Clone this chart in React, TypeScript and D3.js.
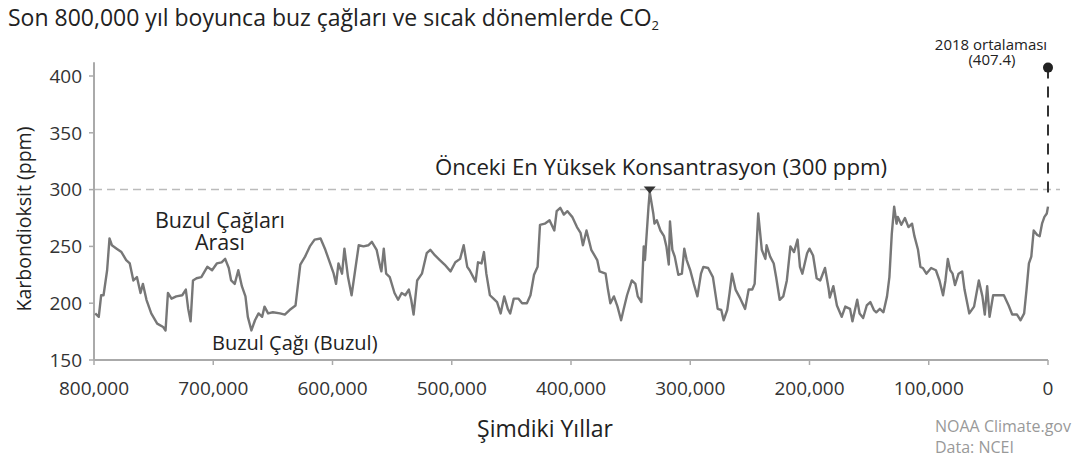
import React from 'react';
import * as d3 from 'd3';

// thousands of years before present
const years = [
  799, 796, 794, 792, 789, 787, 785, 781, 777, 773,
  770, 767, 764, 761, 759, 756, 752, 747, 742, 740,
  738, 735, 731, 726, 723, 721, 719, 717, 714, 710,
  705, 701, 697, 693, 690, 687, 685, 682, 679, 676,
  673, 671, 668, 665, 662, 659, 657, 654, 650, 644,
  640, 636, 631, 627, 623, 619, 615, 610, 606, 602,
  599, 597, 595, 592, 590, 587, 584, 581, 578, 574,
  570, 567, 563, 560, 559, 557, 555, 552, 548, 545,
  542, 539, 536, 534, 532, 529, 525, 521, 518, 514,
  510, 506, 501, 497, 493, 490, 487, 485, 480, 478,
  475, 473, 471, 468, 465, 462, 459, 456, 453, 451,
  448, 444, 441, 437, 434, 431, 428, 426, 422, 418,
  414, 412, 409, 406, 403, 399, 395, 392, 390, 387,
  383, 378, 376, 371, 369, 367, 364, 361, 358, 356,
  353, 349, 346, 344, 341, 339, 338, 335, 334, 331,
  330, 328, 325, 322, 320, 318, 317, 315, 313, 310,
  307, 305, 303, 300, 297, 294, 291, 289, 285, 281,
  277, 274, 272, 269, 267, 265, 262, 258, 254, 251,
  248, 246, 243, 240, 237, 236, 233, 230, 228, 225,
  222, 219, 216, 213, 210, 208, 206, 202, 200, 197,
  194, 191, 187, 184, 183, 180, 177, 173, 170, 166,
  164, 160, 158, 155, 152, 149, 146, 144, 141, 138,
  135, 133, 131, 129, 127, 126, 123, 120, 117, 114,
  112, 109, 107, 105, 102, 98, 94, 91, 88, 86,
  84, 82, 80, 78, 75, 72, 70, 66, 62, 58,
  55, 53, 51, 49, 46, 42, 37, 33, 30, 26,
  23, 20, 18, 16, 14, 12, 9, 7, 5, 3,
  1, 0,
];

// ppm
const co2 = [
  191, 188, 207, 207, 229, 257, 251, 248, 245, 238,
  235, 220, 223, 209, 217, 203, 191, 182, 179, 176,
  209, 204, 206, 207, 212, 195, 184, 220, 222, 223,
  232, 229, 235, 236, 239, 231, 220, 217, 229, 215,
  206, 188, 176, 185, 191, 188, 197, 191, 192, 191,
  190, 194, 198, 234, 241, 250, 256, 257, 247, 235,
  226, 217, 235, 226, 248, 223, 207, 229, 251, 250,
  251, 254, 247, 232, 228, 248, 226, 223, 209, 203,
  209, 207, 212, 203, 190, 220, 226, 244, 247, 242,
  238, 234, 228, 236, 239, 251, 232, 229, 219, 236,
  235, 245, 226, 207, 204, 201, 191, 206, 195, 191,
  204, 204, 200, 200, 207, 225, 232, 269, 270, 273,
  264, 281, 284, 278, 281, 276, 267, 262, 251, 264,
  247, 238, 228, 226, 212, 200, 206, 197, 185, 194,
  207, 220, 217, 206, 201, 250, 238, 285, 298, 279,
  270, 273, 264, 259, 250, 234, 272, 247, 241, 225,
  226, 248, 238, 229, 217, 206, 226, 232, 231, 223,
  195, 194, 185, 194, 209, 226, 212, 204, 195, 212,
  212, 217, 279, 247, 239, 251, 241, 235, 223, 203,
  206, 220, 250, 245, 256, 232, 226, 244, 248, 242,
  222, 220, 231, 213, 205, 215, 198, 188, 197, 195,
  184, 203, 191, 187, 198, 201, 194, 192, 195, 192,
  206, 223, 261, 285, 270, 276, 269, 275, 267, 270,
  259, 247, 232, 231, 226, 231, 229, 220, 207, 220,
  239, 229, 226, 216, 226, 228, 212, 191, 197, 220,
  206, 190, 215, 188, 207, 207, 207, 198, 190, 190,
  185, 191, 212, 235, 241, 264, 260, 259, 270, 276,
  279, 285,
];

const yTicks = [150, 200, 250, 300, 350, 400];
const xTicks = [800, 700, 600, 500, 400, 300, 200, 100, 0];
const previousPeak = { year: 334, value: 300 };
const current = { year: 0, value: 407.4, lineTop: 292 };

const FONT = "'Open Sans', 'Noto Sans', sans-serif";

const App = () => {
  const width = 1077;
  const height = 460;

  const x = d3.scaleLinear().domain([800, 0]).range([94, 1048]);
  const y = d3.scaleLinear().domain([150, 400]).range([360, 76]);

  const data = years.map((yr, i) => ({ yr, v: co2[i] }));
  const line = d3
    .line<{ yr: number; v: number }>()
    .x((d) => x(d.yr))
    .y((d) => y(d.v));

  const fmt = d3.format(',');
  const px = x(previousPeak.year);
  const py = y(previousPeak.value);

  return (
    <svg
      width={width}
      height={height}
      style={{ position: 'absolute', left: 0, top: 0, background: '#fff' }}
      fontFamily={FONT}
    >
      <text x={8} y={26} fontSize={23} fill="#222">
        Son 800,000 yıl boyunca buz çağları ve sıcak dönemlerde CO
        <tspan fontSize={13} dy={4}>2</tspan>
      </text>

      {/* reference line at 300 ppm */}
      <line
        x1={x(800)}
        x2={1060}
        y1={y(300)}
        y2={y(300)}
        stroke="#bbb"
        strokeWidth={1.5}
        strokeDasharray="8 5"
      />

      {/* y axis */}
      <line x1={94} x2={94} y1={y(150)} y2={y(412)} stroke="#aaa" strokeWidth={2} />
      {yTicks.map((t) => (
        <g key={t}>
          <line x1={89} x2={94} y1={y(t)} y2={y(t)} stroke="#aaa" strokeWidth={1.5} />
          <text x={82} y={y(t)} dy="0.36em" textAnchor="end" fontSize={19} fill="#333">
            {t}
          </text>
        </g>
      ))}
      <text
        transform={`translate(31,219) rotate(-90)`}
        textAnchor="middle"
        fontSize={19.5}
        fill="#222"
      >
        Karbondioksit (ppm)
      </text>

      {/* x axis */}
      <line x1={x(800)} x2={x(0)} y1={y(150)} y2={y(150)} stroke="#aaa" strokeWidth={2} />
      {xTicks.map((t) => (
        <g key={t}>
          <line x1={x(t)} x2={x(t)} y1={y(150)} y2={y(150) + 5} stroke="#aaa" strokeWidth={1.5} />
          <text x={x(t)} y={395} textAnchor="middle" fontSize={19} fill="#333">
            {fmt(t * 1000)}
          </text>
        </g>
      ))}
      <text x={545} y={437} textAnchor="middle" fontSize={23} fill="#222">
        Şimdiki Yıllar
      </text>

      {/* series */}
      <path d={line(data) || ''} fill="none" stroke="#777" strokeWidth={2.4} strokeLinejoin="round" />

      {/* previous peak marker */}
      <path d={`M${px - 6},${py - 3}L${px + 6},${py - 3}L${px},${py + 4}Z`} fill="#333" />
      <text x={661} y={175} textAnchor="middle" fontSize={22.2} fill="#222">
        Önceki En Yüksek Konsantrasyon (300 ppm)
      </text>

      {/* 2018 value */}
      <line
        x1={x(current.year)}
        x2={x(current.year)}
        y1={y(current.value)}
        y2={y(current.lineTop)}
        stroke="#333"
        strokeWidth={2}
        strokeDasharray="11 8"
      />
      <circle cx={x(current.year)} cy={y(current.value)} r={5} fill="#222" />
      <text x={991} y={50} textAnchor="middle" fontSize={15} fill="#222">
        2018 ortalaması
      </text>
      <text x={992} y={65} textAnchor="middle" fontSize={15} fill="#222">
        (407.4)
      </text>

      <text x={220} y={228} textAnchor="middle" fontSize={21.5} fill="#222">
        Buzul Çağları
      </text>
      <text x={220} y={250} textAnchor="middle" fontSize={21.5} fill="#222">
        Arası
      </text>
      <text x={212} y={350} fontSize={20} fill="#222">
        Buzul Çağı (Buzul)
      </text>

      <text x={935} y={432} fontSize={16} fill="#999">
        NOAA Climate.gov
      </text>
      <text x={935} y={453} fontSize={16} fill="#999">
        Data: NCEI
      </text>
    </svg>
  );
};

export default App;
